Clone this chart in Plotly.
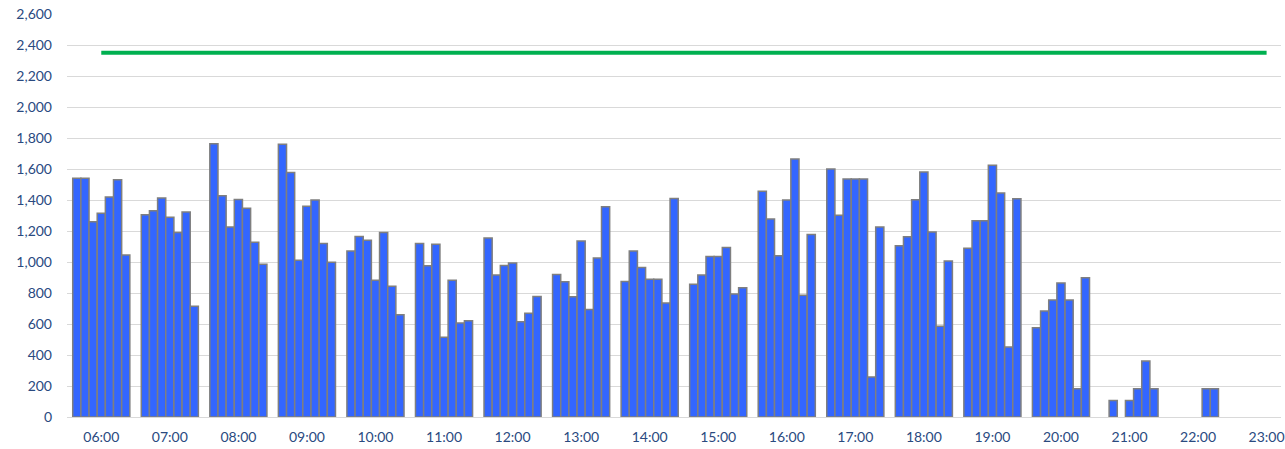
import plotly.graph_objects as go

# hourly groups of 7 readings (None = no reading)
hours = [6, 7, 8, 9, 10, 11, 12, 13, 14, 15, 16, 17, 18, 19, 20, 21, 22]
values = [
    [1540, 1540, 1260, 1315, 1420, 1530, 1045],
    [1305, 1330, 1413, 1288, 1190, 1322, 714],
    [1763, 1428, 1226, 1404, 1346, 1127, 985],
    [1759, 1578, 1011, 1359, 1400, 1120, 998],
    [1071, 1165, 1140, 882, 1191, 843, 660],
    [1120, 976, 1114, 514, 882, 606, 621],
    [1155, 916, 978, 993, 615, 669, 778],
    [920, 873, 776, 1135, 694, 1026, 1357],
    [875, 1071, 965, 888, 888, 735, 1410],
    [856, 916, 1036, 1036, 1094, 793, 834],
    [1456, 1277, 1041, 1400, 1664, 785, 1178],
    [1600, 1301, 1535, 1535, 1535, 258, 1226],
    [1105, 1163, 1402, 1580, 1193, 585, 1006],
    [1088, 1266, 1266, 1625, 1445, 451, 1408],
    [576, 684, 755, 864, 755, 183, 899],
    [None, 107, None, 107, 183, 361, 183],
    [None, None, None, None, 183, 183, None],
]
hour_labels = [f"{h:02d}:00" for h in range(6, 24)]
target = 2350
target_span = [6, 23]

step = 0.119  # width of one reading slot, in hours
xs, ys = [], []
for h, group in zip(hours, values):
    for k, v in enumerate(group):
        if v is not None:
            xs.append(h + (k - 3) * step)
            ys.append(v)

fig = go.Figure()
fig.add_trace(go.Bar(
    x=xs, y=ys, width=step,
    marker=dict(color="#3366FF", line=dict(color="#7F7F7F", width=1.5)),
))
fig.add_trace(go.Scatter(
    x=target_span, y=[target, target], mode="lines",
    line=dict(color="#00B050", width=4),
))

font = dict(family="Lato, 'Open Sans', sans-serif", size=14, color="#2A4A7F")
fig.update_layout(
    width=1285, height=449,
    margin=dict(l=67, r=0, t=14, b=32),
    plot_bgcolor="white", paper_bgcolor="white",
    showlegend=False, font=font,
    xaxis=dict(
        range=[5.5, 23.21],
        tickvals=list(range(6, 24)), ticktext=hour_labels,
        showgrid=False, zeroline=False, showline=False,
        ticklabelstandoff=10, tickfont=font, ticklabeloverflow="allow",
    ),
    yaxis=dict(
        range=[0, 2600], dtick=200, tickformat=",d",
        showgrid=True, gridcolor="#D9D9D9", gridwidth=1,
        zeroline=True, zerolinecolor="#D9D9D9", zerolinewidth=1,
        showline=False, ticklabelstandoff=14, tickfont=font,
    ),
)

# drop the default page margin so the chart sits at the window's corner
fig.write_html("out.html", config={"displayModeBar": False},
               post_script="document.body.style.margin='0';")
